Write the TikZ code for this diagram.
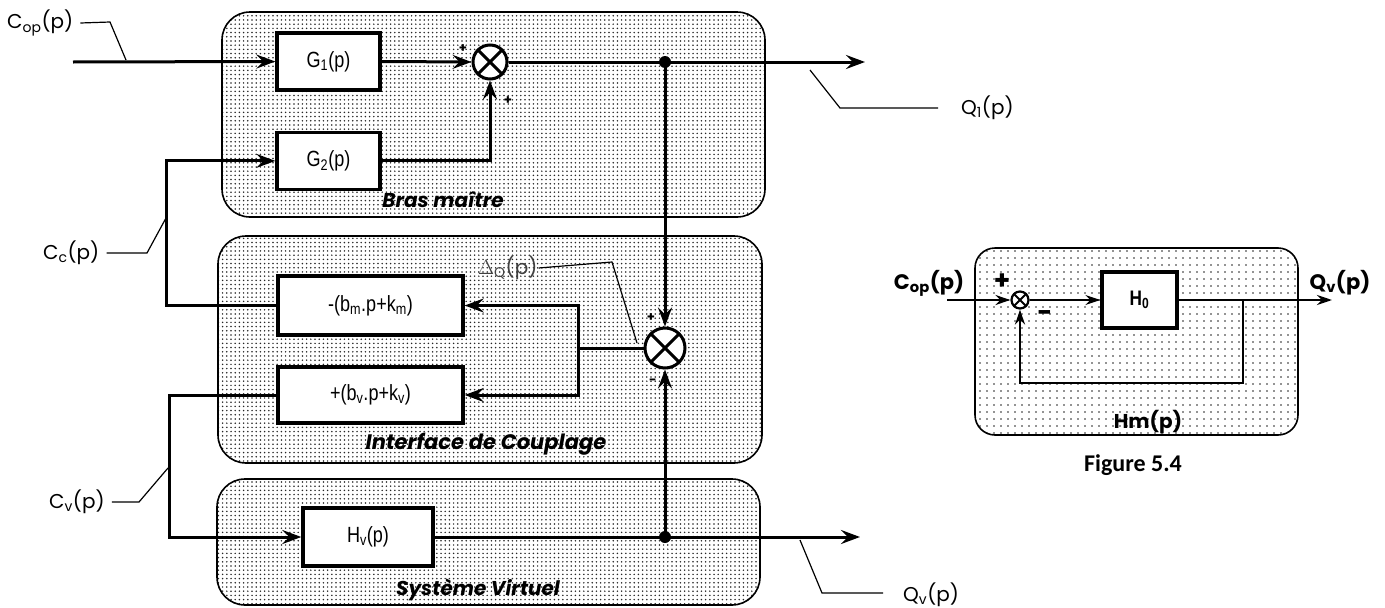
\documentclass[tikz,border=0pt]{standalone}
\usepackage{fontspec}
\setmainfont{Poppins}
\newfontfamily\boxfont[FakeStretch=0.82]{Liberation Sans}
\newfontfamily\figfont{Carlito}
\usepackage{tikz}
\usetikzlibrary{arrows.meta, positioning, patterns.meta}

\begin{document}
\begin{tikzpicture}[
    x=1pt, y=-1pt,
    grp/.style  = {
        draw, line width=1.6pt, rounded corners=28pt,
        pattern={Dots[distance=4.2pt, radius=0.85pt]},
        pattern color=black!85, inner sep=0pt
    },
    blk/.style  = {
        draw, line width=3.4pt, fill=white, inner sep=0pt,
        minimum width=103pt, minimum height=57pt,
        font=\boxfont\fontsize{22}{25}\selectfont
    },
    sum/.style  = {
        circle, draw, line width=3pt, fill=white,
        inner sep=0pt, minimum size=34pt,
        path picture={
          \draw[line width=3pt]
            (path picture bounding box.north west) --
            (path picture bounding box.south east)
            (path picture bounding box.north east) --
            (path picture bounding box.south west);}
    },
    wire/.style = {line width=3pt},
    arr/.style  = {wire, -{Stealth[length=19pt, width=14pt, inset=7pt]}},
    lead/.style = {line width=1.2pt},
    lbl/.style  = {font=\fontsize{20}{23}\selectfont, inner sep=1pt},
    ttl/.style  = {font=\fontsize{20}{23}\selectfont\bfseries\itshape,
                   inner sep=0pt},
    sgn/.style  = {font=\fontsize{13}{13}\selectfont\bfseries, inner sep=0pt}
  ]
  \useasboundingbox (0,0) rectangle (1385,608);

  %% groups
  \node[grp, minimum width=543pt, minimum height=205pt] (bras)  at (493.5,114.5) {};
  \node[grp, minimum width=544pt, minimum height=227pt] (inter) at (490,349.5) {};
  \node[grp, minimum width=543pt, minimum height=126pt] (virt)  at (488.5,542) {};
  \node[ttl] (brasl)  at (443,200) {Bras maître};
  \node[ttl, font=\fontsize{21}{24}\selectfont\bfseries\itshape] (interl) at (486,444) {Interface de Couplage};
  \node[ttl] (virtl)  at (478,590) {Système Virtuel};

  %% Bras maître
  \node[blk] (g1) at (328.5,61.5) {G\textsubscript{1}(p)};
  \node[blk, below=39pt of g1] (g2) {G\textsubscript{2}(p)};
  \node[sum] (s1) at (490,62) {};
  \node[sgn] (p1) at (463,49) {+};
  \node[sgn] (p2) at (508,101) {+};

  %% couplage
  \node[blk, minimum width=185pt, minimum height=59pt] (km) at (370.5,305.5)
       {-(b\textsubscript{m}.p+k\textsubscript{m})};
  \node[blk, minimum width=185pt, minimum height=56pt] (kv) at (370.5,395)
       {+(b\textsubscript{v}.p+k\textsubscript{v})};
  \node[sum, minimum size=40pt] (s2) at (665,348) {};
  \node[sgn] (p3) at (651,318) {+};
  \node[sgn] (m3) at (653,382) {-};

  %% virtuel
  \node[blk, minimum width=130pt, minimum height=58pt] (hv) at (368,537)
       {H\textsubscript{v}(p)};

  %% points
  \coordinate (in) at (73,62);
  \coordinate (j1) at (665,62);
  \coordinate (q1) at (865,62);
  \coordinate (b1) at (578,348);
  \coordinate (j2) at (665,537);
  \coordinate (qv) at (860,537);

  %% wires
  \draw[arr] (in) -- (g1.west);
  \draw[arr] (g1.east) -- (s1.west);
  \draw[arr] (g2.east) -| (s1.south);
  \draw[arr] (s1.east) -- (q1);
  \draw[arr] (j1) -- (s2.north);
  \draw[arr] (j2) -- (s2.south);
  \draw[wire] (s2.west) -- (b1);
  \draw[arr] (b1) |- (km.east);
  \draw[arr] (b1) |- (kv.east);
  \draw[arr] (km.west) -- ++(-110,0) |- (g2.west);
  \draw[arr] (kv.west) -- ++(-107,0) |- (hv.west);
  \draw[arr] (hv.east) -- (qv);
  \fill (j1) circle (6pt);
  \fill (j2) circle (6pt);

  %% labels
  \node[lbl, anchor=west] (cop) at (6,23)  {C\textsubscript{op}(p)};
  \node[lbl, anchor=west] (q1l) at (960,108) {Q\textsubscript{1}(p)};
  \node[lbl, anchor=west] (ccl) at (42,253) {C\textsubscript{c}(p)};
  \node[lbl, anchor=west] (cvl) at (48,502) {C\textsubscript{v}(p)};
  \node[lbl, anchor=west] (qvl) at (902,595) {Q\textsubscript{v}(p)};
  \node[lbl, anchor=west, text=black!75] (dql) at (477,268)
       {$\Delta$\textsubscript{Q}(p)};

  \coordinate (cop1) at (110,22);  \coordinate (cop2) at (126,60);
  \coordinate (q1a) at (810,70);   \coordinate (q1b) at (840,108);
  \coordinate (q1c) at (938,108);
  \coordinate (cc1) at (147,253);  \coordinate (cc2) at (166,218);
  \coordinate (cv1) at (139,502);  \coordinate (cv2) at (168,468);
  \coordinate (qv1) at (800,540);  \coordinate (qv2) at (822,593);
  \coordinate (qv3) at (883,593);
  \coordinate (dq1) at (612,262);  \coordinate (dq2) at (637,343);

  \draw[lead] ([xshift=6pt]cop.east) -- (cop1) -- (cop2);
  \draw[lead] (q1a) -- (q1b) -- (q1c);
  \draw[lead] ([xshift=6pt]ccl.east) -- (cc1) -- (cc2);
  \draw[lead] ([xshift=6pt]cvl.east) -- (cv1) -- (cv2);
  \draw[lead] (qv1) -- (qv2) -- (qv3);
  \draw[lead] (dql.east) -- (dq1) -- (dq2);

  %% Figure 5.4
  \node[grp, rounded corners=20pt, pattern={Dots[distance=7pt, radius=0.9pt]},
        minimum width=323pt, minimum height=187pt] (hm) at (1136.5,341.5) {};
  \node[sum, minimum size=17pt, line width=2.2pt,
        path picture={\draw[line width=2pt]
          (path picture bounding box.north west) -- (path picture bounding box.south east)
          (path picture bounding box.north east) -- (path picture bounding box.south west);}]
       (s3) at (1020,300) {};
  \node[blk, minimum width=75pt, minimum height=56pt,
        font=\boxfont\fontsize{21}{24}\selectfont\bfseries] (h0) at (1139.5,300)
       {H\textsubscript{0}};
  \coordinate (in2) at (947,300);
  \coordinate (br2) at (1243,300);
  \coordinate (out2) at (1332,300);
  \draw[line width=2.6pt, -{Stealth[length=15pt, width=10pt, inset=5pt]}] (in2) -- (s3.west);
  \draw[line width=1.5pt, -{Stealth[length=15pt, width=10pt, inset=5pt]}] (s3.east) -- (h0.west);
  \draw[line width=2.6pt, -{Stealth[length=15pt, width=10pt, inset=5pt]}] (h0.east) -- (out2);
  \draw[line width=2.6pt, -{Stealth[length=15pt, width=10pt, inset=5pt]}] (br2) -- ++(0,83) -| (s3.south);
  \node[sgn, font=\fontsize{26}{26}\selectfont\bfseries] (p4) at (1002,282) {+};
  \node[sgn, font=\fontsize{26}{26}\selectfont\bfseries] (m4) at (1045,316) {-};
  \node[lbl, font=\fontsize{21}{24}\selectfont\bfseries] (copb) at (929,283) {C\textsubscript{op}(p)};
  \node[lbl, font=\fontsize{21}{24}\selectfont\bfseries] (qvb) at (1340,283) {Q\textsubscript{v}(p)};
  \node[lbl, font=\fontsize{20}{23}\selectfont\bfseries] (hml) at (1148,422) {Hm(p)};
  \node[lbl, font=\figfont\fontsize{24}{27}\selectfont\bfseries] (fig) at (1133,465) {Figure 5.4};

\end{tikzpicture}
\end{document}
